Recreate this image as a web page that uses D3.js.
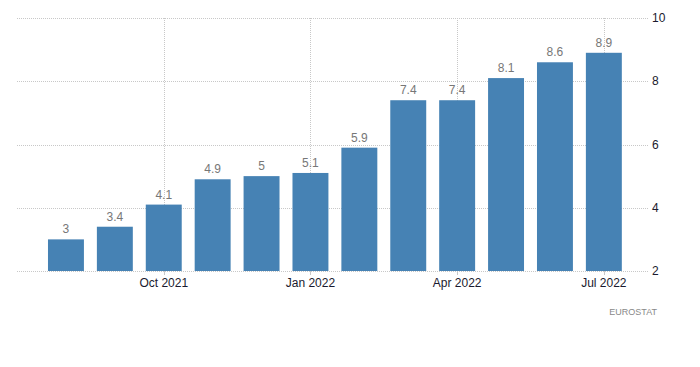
<!DOCTYPE html>
<html><head><meta charset="utf-8">
<script src="https://cdn.jsdelivr.net/npm/d3@7"></script>
<style>body{margin:0;background:#fff}svg{display:block}</style>
</head><body>
<svg id="c" width="700" height="367"></svg>
<script>
const months = ["Aug 2021","Sep 2021","Oct 2021","Nov 2021","Dec 2021","Jan 2022","Feb 2022","Mar 2022","Apr 2022","May 2022","Jun 2022","Jul 2022"];
const values = [3, 3.4, 4.1, 4.9, 5, 5.1, 5.9, 7.4, 7.4, 8.1, 8.6, 8.9];
const xTickLabels = ["Oct 2021","Jan 2022","Apr 2022","Jul 2022"];
const yTicks = [2, 4, 6, 8, 10];
const source = "EUROSTAT";

const svg = d3.select("#c");
const font = "'Liberation Sans', Arial, sans-serif";
const gridL = 17, gridR = 648;
const x = d3.scaleBand().domain(months).range([41.5, 628.3]).paddingInner(0.265).paddingOuter(0.1325);
const y = d3.scaleLinear().domain([2, 10]).range([271, 18]);

const grid = svg.append("g");
grid.selectAll("line.h").data(yTicks).join("line")
  .attr("x1", gridL).attr("x2", gridR)
  .attr("y1", d => Math.round(y(d)) + 0.5).attr("y2", d => Math.round(y(d)) + 0.5)
  .attr("stroke", "#c8c8c8").attr("stroke-dasharray", "1,1");
grid.selectAll("line.v").data(xTickLabels).join("line")
  .attr("x1", d => Math.round(x(d) + x.bandwidth()/2) + 0.5)
  .attr("x2", d => Math.round(x(d) + x.bandwidth()/2) + 0.5)
  .attr("y1", y(10)).attr("y2", y(2))
  .attr("stroke", "#c8c8c8").attr("stroke-dasharray", "1,1");

svg.selectAll("rect.bar").data(values).join("rect")
  .attr("x", (d, i) => x(months[i]))
  .attr("width", x.bandwidth())
  .attr("y", d => y(d))
  .attr("height", d => y(2) - y(d))
  .attr("fill", "#4682b4");

svg.selectAll("text.val").data(values).join("text")
  .attr("x", (d, i) => x(months[i]) + x.bandwidth()/2)
  .attr("y", d => y(d) - 6)
  .attr("text-anchor", "middle")
  .attr("font-family", font).attr("font-size", 12)
  .attr("fill", "#777").text(d => d);

// x ticks
svg.selectAll("line.xt").data(xTickLabels).join("line")
  .attr("x1", d => Math.round(x(d) + x.bandwidth()/2) + 0.5)
  .attr("x2", d => Math.round(x(d) + x.bandwidth()/2) + 0.5)
  .attr("y1", y(2)).attr("y2", y(2) + 4)
  .attr("stroke", "#c8c8c8");
svg.selectAll("text.xl").data(xTickLabels).join("text")
  .attr("x", d => x(d) + x.bandwidth()/2)
  .attr("y", 287)
  .attr("text-anchor", "middle")
  .attr("font-family", font).attr("font-size", 12)
  .attr("fill", "#1a1a2e").text(d => d);

svg.selectAll("text.yl").data(yTicks).join("text")
  .attr("x", 652).attr("y", d => y(d) + 4)
  .attr("font-family", font).attr("font-size", 12)
  .attr("fill", "#1a1a2e").text(d => d);

svg.append("text").attr("x", 657).attr("y", 315).attr("text-anchor", "end")
  .attr("font-family", font).attr("font-size", 9)
  .attr("fill", "#888").text(source);
</script>
</body></html>
